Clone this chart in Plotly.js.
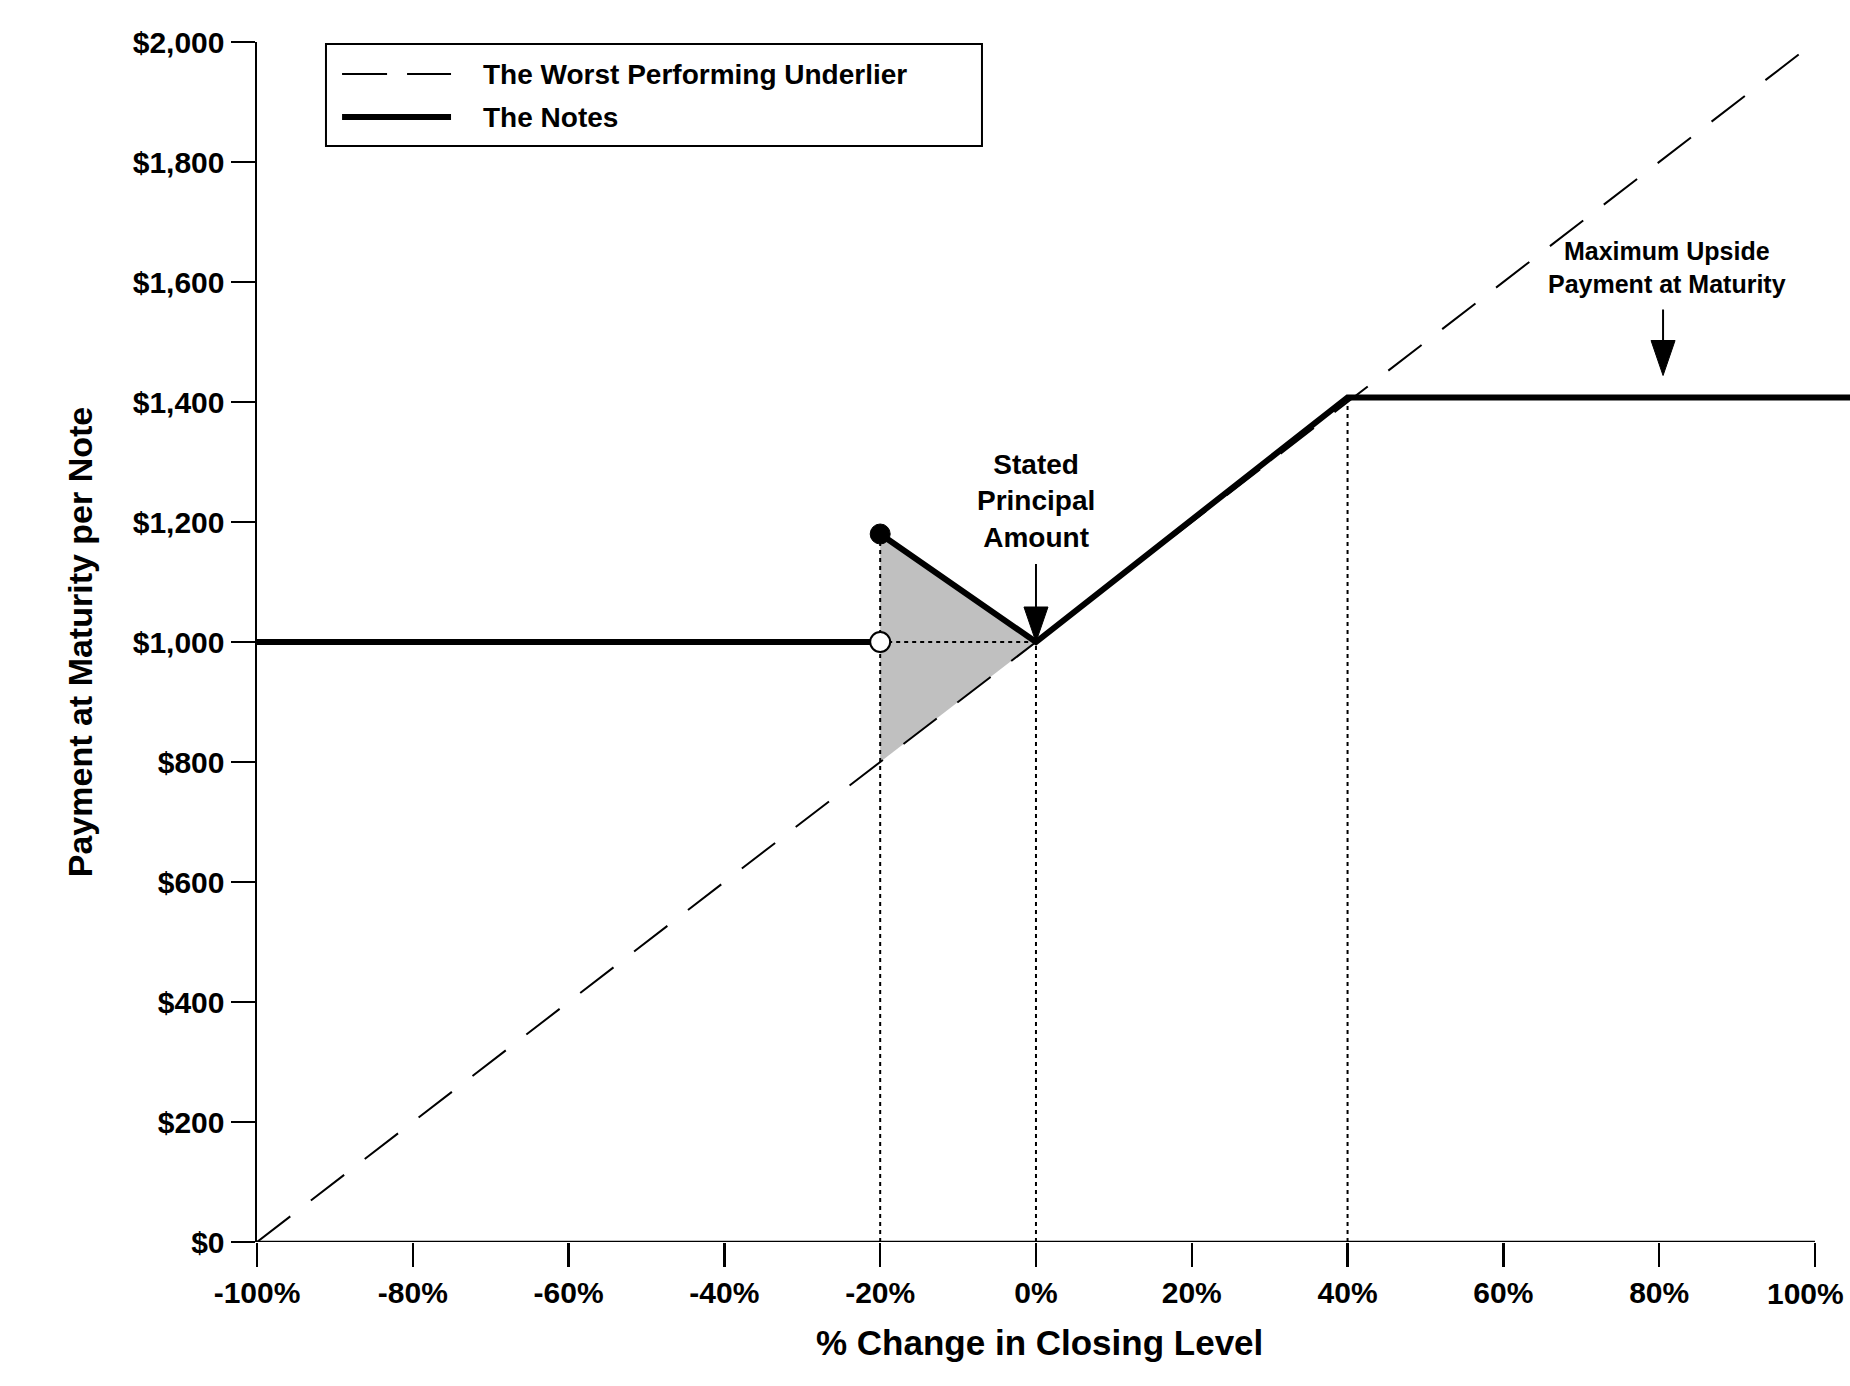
<!DOCTYPE html>
<html>
<head>
<meta charset="utf-8">
<script src="https://cdn.plot.ly/plotly-3.0.1.min.js"></script>
<style>
  html, body { margin: 0; padding: 0; background: #fff; }
  #chart { width: 1850px; height: 1386px; }
</style>
</head>
<body>
<div id="chart"></div>
<script>
"use strict";

// % change in closing level of the worst performing underlier vs. payment per note.
const underlierX = [-100, 100];
const underlierY = [0, 2000];

// The notes: flat principal below the barrier, absolute return up to 0%, capped upside.
const notesX = [-100, -20, null, -20, 0, 40, 104.5];
const notesY = [1000, 1000, null, 1180, 1000, 1407.5, 1407.5];

// Shaded absolute-return region between the barrier and 0%.
const shadeX = [-20, 0, -20];
const shadeY = [1180, 1000, 800];

// Dotted guide lines (segments separated by null).
const guideX = [-20, -20, null, -20, 0, null, 0, 0, null, 40, 40];
const guideY = [0, 1180, null, 1000, 1000, null, 0, 1000, null, 0, 1407.5];

const barrierX = [-20];
const barrierHitY = [1180];
const barrierMissY = [1000];

const xTicks = [-100, -80, -60, -40, -20, 0, 20, 40, 60, 80, 100];
const xTickText = ["-100%", "-80%", "-60%", "-40%", "-20%", "0%", "20%", "40%", "60%", "80%", "100%"];
const yTicks = [0, 200, 400, 600, 800, 1000, 1200, 1400, 1600, 1800, 2000];
const yTickText = ["$0", "$200", "$400", "$600", "$800", "$1,000", "$1,200", "$1,400", "$1,600", "$1,800", "$2,000"];

const legendNames = ["The Worst Performing Underlier", "The Notes"];

const FONT = "Liberation Sans, Arial, sans-serif";
const BOLD = (size) => ({ family: FONT, size, color: "#000", weight: "bold" });

const traces = [
  {
    x: shadeX, y: shadeY, type: "scatter", mode: "lines",
    fill: "toself", fillcolor: "#c0c0c0", line: { width: 0 },
    showlegend: false, hoverinfo: "skip",
  },
  {
    x: guideX, y: guideY, type: "scatter", mode: "lines",
    line: { color: "#000", width: 2, dash: "4px,4px" },
    showlegend: false, hoverinfo: "skip",
  },
  {
    name: legendNames[0],
    x: underlierX, y: underlierY, type: "scatter", mode: "lines",
    line: { color: "#000", width: 2, dash: "42px,26px" },
    showlegend: false,
  },
  {
    name: legendNames[1],
    x: notesX, y: notesY, type: "scatter", mode: "lines",
    line: { color: "#000", width: 6 },
    showlegend: false,
  },
  {
    x: barrierX, y: barrierMissY, type: "scatter", mode: "markers",
    marker: { color: "#fff", size: 20, line: { color: "#000", width: 2 } },
    showlegend: false, cliponaxis: false,
  },
  {
    x: barrierX, y: barrierHitY, type: "scatter", mode: "markers",
    marker: { color: "#000", size: 20, line: { color: "#000", width: 1 } },
    showlegend: false, cliponaxis: false,
  },
];

// Pixel-sized down arrow anchored at a data point (tip at the anchor + tipOff px).
function downArrow(x, y, tipOff, tailOff) {
  const head = 35, half = 12;
  return [
    { type: "path", xref: "x", yref: "y", xsizemode: "pixel", ysizemode: "pixel",
      xanchor: x, yanchor: y,
      path: `M0,${tipOff} L${-half},${tipOff + head} L${half},${tipOff + head} Z`,
      fillcolor: "#000", line: { color: "#000", width: 1 } },
    { type: "line", xref: "x", yref: "y", xsizemode: "pixel", ysizemode: "pixel",
      xanchor: x, yanchor: y, x0: 0, x1: 0, y0: tipOff + head - 2, y1: tailOff,
      line: { color: "#000", width: 2 } },
  ];
}

// Hand-placed legend box, matching the long line samples of the original.
const legendBox = { x0: 0.0433, x1: 0.4551, y0: 0.9133, y1: 0.9983 };
const legendRows = [0.9733, 0.9375];
const legendSample = [0.0534, 0.1218];
const legendTextX = 0.1406;

// The last tick label sits against the right edge, so it is drawn as an annotation nudged left.
const lastTick = xTicks.length - 1;
const axisTickText = xTickText.map((t, i) => (i === lastTick ? "" : t));

const layout = {
  width: 1850,
  height: 1386,
  paper_bgcolor: "#fff",
  plot_bgcolor: "#fff",
  font: { family: FONT, color: "#000", size: 28 },
  margin: { l: 257, r: 0, t: 42, b: 144 },
  showlegend: false,
  xaxis: {
    range: [-100, 104.5],
    tickvals: xTicks, ticktext: axisTickText,
    ticks: "outside", ticklen: 24, tickwidth: 2.5, tickcolor: "#000",
    tickfont: BOLD(30),
    showline: false, showgrid: false, zeroline: false,
  },
  yaxis: {
    range: [0, 2000],
    tickvals: yTicks, ticktext: yTickText,
    ticks: "outside", ticklen: 24, tickwidth: 2.5, tickcolor: "#000",
    tickfont: BOLD(30),
    showline: true, linecolor: "#000", linewidth: 2.5, mirror: false,
    showgrid: false, zeroline: false,
    title: { text: "Payment at Maturity per Note", font: BOLD(34), standoff: 30 },
  },
  shapes: [
    // x axis baseline only spans the labelled range
    { type: "line", xref: "x", yref: "y", x0: xTicks[0], x1: xTicks[lastTick], y0: 0, y1: 0,
      line: { color: "#000", width: 2.5 } },
    { type: "rect", xref: "paper", yref: "paper", ...legendBox,
      fillcolor: "#fff", line: { color: "#000", width: 2 } },
    { type: "line", xref: "paper", yref: "paper", x0: legendSample[0], x1: legendSample[1],
      y0: legendRows[0], y1: legendRows[0], line: { color: "#000", width: 2, dash: "45px,20px" } },
    { type: "line", xref: "paper", yref: "paper", x0: legendSample[0], x1: legendSample[1],
      y0: legendRows[1], y1: legendRows[1], line: { color: "#000", width: 6 } },
    ...downArrow(0, 1000, 0, 78),
    ...downArrow(80.5, 1407.5, 22, 88),
  ],
  annotations: [
    { x: legendTextX, y: legendRows[0], xref: "paper", yref: "paper", xanchor: "left", yanchor: "middle",
      text: legendNames[0], showarrow: false, font: BOLD(28) },
    { x: legendTextX, y: legendRows[1], xref: "paper", yref: "paper", xanchor: "left", yanchor: "middle",
      text: legendNames[1], showarrow: false, font: BOLD(28) },
    { x: xTicks[lastTick], y: -0.0425, xref: "x", yref: "paper", xanchor: "center", yanchor: "middle",
      xshift: -9, text: xTickText[lastTick], showarrow: false, font: BOLD(30) },
    { x: 0.4915, y: -0.084, xref: "paper", yref: "paper", yanchor: "middle",
      text: "% Change in Closing Level", showarrow: false, font: BOLD(35) },
    { x: 0, y: 1235, xref: "x", yref: "y", text: "Stated<br>Principal<br>Amount",
      showarrow: false, font: BOLD(28) },
    { x: 81, y: 1624, xref: "x", yref: "y", text: "Maximum Upside<br>Payment at Maturity",
      showarrow: false, font: BOLD(25) },
  ],
};

Plotly.newPlot("chart", traces, layout, { displayModeBar: false, staticPlot: true });
</script>
</body>
</html>
